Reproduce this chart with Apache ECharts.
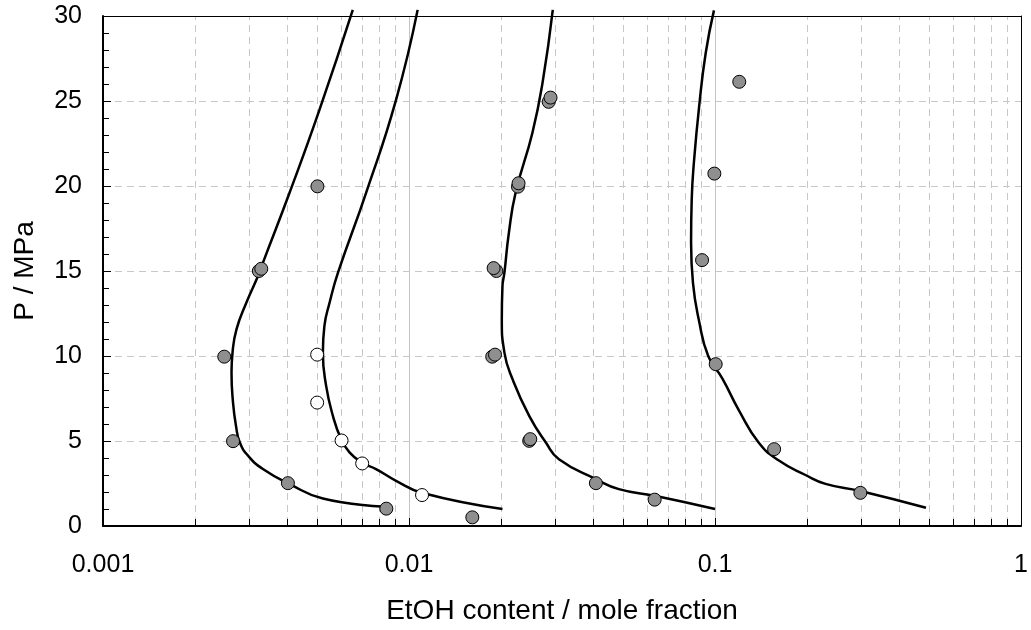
<!DOCTYPE html>
<html>
<head>
<meta charset="utf-8">
<script src="https://cdn.jsdelivr.net/npm/echarts@6/dist/echarts.min.js"></script>
<style>
  html, body { margin: 0; padding: 0; background: #fff; }
  #chart { width: 1031px; height: 630px; }
</style>
</head>
<body>
<div id="chart"></div>
<script>
// Axis ticks
const xTickLabels = ['0.001', '0.01', '0.1', '1'];
const yTickLabels = ['0', '5', '10', '15', '20', '25', '30'];
const xMinorTicks = [0.002, 0.003, 0.004, 0.005, 0.006, 0.007, 0.008, 0.009,
                     0.02, 0.03, 0.04, 0.05, 0.06, 0.07, 0.08, 0.09,
                     0.2, 0.3, 0.4, 0.5, 0.6, 0.7, 0.8, 0.9];

// Measured solubilities [EtOH mole fraction, P / MPa]
const measuredFilled = [
  [0.00249, 9.96], [0.00266, 4.99], [0.00402, 2.52], [0.00843, 1.02],
  [0.00323, 15.0], [0.00329, 15.13], [0.00502, 19.98], [0.0161, 0.51],
  [0.0286, 24.95], [0.0290, 25.2], [0.0227, 19.96], [0.0228, 20.16],
  [0.0193, 15.0], [0.0189, 15.17], [0.0187, 9.96], [0.0191, 10.08],
  [0.0247, 5.01], [0.0249, 5.11], [0.0408, 2.52], [0.0635, 1.55],
  [0.120, 26.13], [0.0995, 20.73], [0.0907, 15.64], [0.1005, 9.52],
  [0.156, 4.52], [0.2985, 1.95]
];
const measuredOpen = [
  [0.00501, 10.08], [0.00501, 7.26], [0.00602, 5.03], [0.00703, 3.68], [0.01103, 1.82]
];

// Model curves
const curve1 = [
  [0.0081, 1.15], [0.00523, 1.62], [0.00407, 2.47], [0.00333, 3.35], [0.00298, 4.13],
  [0.0028, 4.91], [0.00272, 5.89], [0.00266, 7.26], [0.00263, 9.03], [0.00265, 10.2],
  [0.00273, 11.57], [0.00294, 13.13], [0.00321, 14.7], [0.00333, 15.48], [0.00407, 19.6],
  [0.0051, 24.49], [0.00655, 30.36]
];
const curve2 = [
  [0.0202, 1.0], [0.01108, 1.94], [0.00907, 2.66], [0.0078, 3.35], [0.0070, 3.74],
  [0.00639, 4.33], [0.006, 5.11], [0.00564, 6.48], [0.00536, 8.24], [0.00523, 10.2],
  [0.00529, 11.76], [0.0055, 13.13], [0.00586, 14.9], [0.00724, 19.6], [0.00907, 25.07],
  [0.01067, 30.36]
];
const curve3 = [
  [0.1, 1.0], [0.0635, 1.78], [0.0485, 2.17], [0.0408, 2.76], [0.0309, 3.93],
  [0.028, 4.91], [0.0247, 6.48], [0.0218, 8.63], [0.0205, 10.2], [0.0201, 12.15],
  [0.0202, 14.11], [0.0205, 14.9], [0.0212, 17.25], [0.0223, 19.6], [0.0253, 23.12],
  [0.0273, 26.05], [0.0295, 30.36]
];
const curve4 = [
  [0.489, 1.07], [0.2985, 2.06], [0.2296, 2.48], [0.1975, 3.0], [0.1617, 3.85],
  [0.139, 4.9], [0.1198, 6.79], [0.1056, 8.68], [0.095, 10.0], [0.0887, 12.05],
  [0.0847, 14.3], [0.0835, 16.67], [0.0839, 19.19], [0.0854, 21.5], [0.0887, 24.66],
  [0.0932, 27.81], [0.0992, 30.33]
];

const FONT = "'Liberation Sans', Arial, sans-serif";
const X_MIN = 0.001, X_MAX = 1, Y_MIN = 0, Y_MAX = 30;

function curveSeries(data) {
  return {
    type: 'line', data: data, smooth: 0.5, symbol: 'none', clip: false,
    lineStyle: { color: '#000', width: 2.5 }, z: 3, silent: true
  };
}
function pointSeries(data, fill) {
  return {
    type: 'scatter', data: data, symbol: 'circle', symbolSize: 13,
    itemStyle: { color: fill, borderColor: '#000', borderWidth: 1, opacity: 1 },
    z: 4, silent: true
  };
}

const chart = echarts.init(document.getElementById('chart'), null, { renderer: 'canvas' });
chart.setOption({
  animation: false,
  backgroundColor: '#fff',
  grid: { left: 103, right: 8, top: 16, bottom: 103 },
  xAxis: [
    {
      type: 'log', logBase: 10, min: X_MIN, max: X_MAX, position: 'bottom',
      name: 'EtOH content / mole fraction', nameLocation: 'middle', nameGap: 71,
      nameTextStyle: { fontSize: 28, color: '#000', fontFamily: FONT },
      axisLine: { show: true, onZero: false, lineStyle: { color: '#000', width: 2 } },
      axisTick: { show: true, inside: true, length: 8, lineStyle: { color: '#000', width: 1 } },
      axisLabel: {
        margin: 27, fontSize: 25, color: '#000', fontFamily: FONT,
        formatter: v => xTickLabels[Math.round(Math.log10(v)) + 3] || ''
      },
      splitLine: { show: true, lineStyle: { color: '#c4c4c4', width: 1, type: 'solid' } },
      minorTick: { show: false }, minorSplitLine: { show: false }
    },
    {
      type: 'log', logBase: 10, min: X_MIN, max: X_MAX, position: 'top',
      axisLine: { show: true, onZero: false, lineStyle: { color: '#000', width: 1 } },
      axisTick: { show: false }, axisLabel: { show: false }, splitLine: { show: false }
    }
  ],
  yAxis: [
    {
      type: 'value', min: Y_MIN, max: Y_MAX, interval: 5, position: 'left',
      name: 'P / MPa', nameLocation: 'middle', nameGap: 64, nameRotate: 90,
      nameTextStyle: { fontSize: 28, color: '#000', fontFamily: FONT },
      axisLine: { show: true, onZero: false, lineStyle: { color: '#000', width: 2 } },
      axisTick: { show: true, inside: true, length: 8, lineStyle: { color: '#000', width: 1 } },
      minorTick: { show: true, splitNumber: 5, length: 6, lineStyle: { color: '#000', width: 1 } },
      axisLabel: {
        margin: 21, fontSize: 25, color: '#000', fontFamily: FONT,
        formatter: v => yTickLabels[Math.round(v / 5)] || ''
      },
      splitLine: { show: true, lineStyle: { color: '#c8c8c8', width: 1, type: [7, 5] } }
    },
    {
      type: 'value', min: Y_MIN, max: Y_MAX, interval: 5, position: 'right',
      axisLine: { show: true, onZero: false, lineStyle: { color: '#000', width: 1 } },
      axisTick: { show: false }, axisLabel: { show: false }, splitLine: { show: false }
    }
  ],
  series: [
    {
      // dashed gridlines and inward ticks at 2..9 within each decade
      type: 'custom', xAxisIndex: 0, yAxisIndex: 0, silent: true, z: 1, clip: false,
      data: xMinorTicks.map(v => [v, 0]),
      encode: { x: 0, y: 1 },
      renderItem: function (params, api) {
        const v = api.value(0);
        const b = api.coord([v, Y_MIN]);
        const t = api.coord([v, Y_MAX]);
        const x = Math.round(b[0]) + 0.5;
        return {
          type: 'group',
          children: [
            { type: 'line', shape: { x1: x, y1: b[1] - 2, x2: x, y2: t[1] + 1 },
              style: { stroke: '#c8c8c8', lineWidth: 1, lineDash: [7, 5] } },
            { type: 'line', shape: { x1: x, y1: b[1], x2: x, y2: b[1] - 7 },
              style: { stroke: '#000', lineWidth: 1 } }
          ]
        };
      }
    },
    curveSeries(curve1),
    curveSeries(curve2),
    curveSeries(curve3),
    curveSeries(curve4),
    pointSeries(measuredFilled, '#8f8f8f'),
    pointSeries(measuredOpen, '#ffffff')
  ]
});
</script>
</body>
</html>
